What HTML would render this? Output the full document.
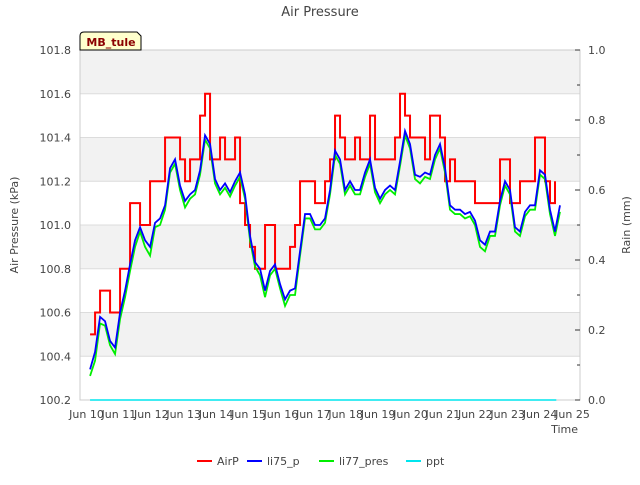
<!DOCTYPE html>
<html><head><meta charset="utf-8"><style>
body{margin:0;background:#fff}
svg text{font-family:"DejaVu Sans","Liberation Sans",sans-serif;fill:#444}
</style></head><body>
<svg width="640" height="480" xmlns="http://www.w3.org/2000/svg">
<text x="320" y="16" text-anchor="middle" font-size="13">Air Pressure</text>
<g id="bg"></g>
<g id="axes"></g>
<g id="series"></g>
<g>
<path d="M80,50 L80,36 Q80,32 84,32 L137,32 L141,36 L141,50 Z" fill="#ffffcc" stroke="#000" stroke-width="1"/>
<text x="111" y="46" text-anchor="middle" font-size="11" font-weight="bold" style="fill:#8b0000">MB_tule</text>
</g>
<text x="18" y="225" font-size="11" text-anchor="middle" transform="rotate(-90 18 225)">Air Pressure (kPa)</text>
<text x="630" y="225" font-size="11" text-anchor="middle" transform="rotate(-90 630 225)">Rain (mm)</text>
<text x="578" y="433" font-size="11" text-anchor="end">Time</text>
<g id="legend"></g>
</svg>
<script>
const ns="http://www.w3.org/2000/svg";
const t0=0.11, dt=0.1543;
const li75=[100.34,100.42,100.58,100.56,100.47,100.44,100.6,100.7,100.82,100.93,100.99,100.93,100.9,101.01,101.03,101.09,101.26,101.3,101.18,101.11,101.14,101.16,101.25,101.41,101.37,101.21,101.16,101.19,101.15,101.2,101.24,101.14,100.95,100.83,100.8,100.7,100.79,100.82,100.73,100.66,100.7,100.71,100.88,101.05,101.05,101.0,101.0,101.03,101.16,101.34,101.3,101.16,101.2,101.16,101.16,101.24,101.3,101.17,101.12,101.16,101.18,101.16,101.29,101.43,101.37,101.23,101.22,101.24,101.23,101.32,101.37,101.26,101.09,101.07,101.07,101.05,101.06,101.02,100.93,100.91,100.97,100.97,101.11,101.2,101.16,100.99,100.97,101.06,101.09,101.09,101.25,101.23,101.07,100.97,101.09];
const li77=[100.31,100.38,100.55,100.54,100.45,100.41,100.57,100.67,100.79,100.9,100.97,100.9,100.86,100.99,101.0,101.07,101.24,101.28,101.16,101.08,101.12,101.14,101.23,101.39,101.35,101.19,101.14,101.17,101.13,101.18,101.22,101.12,100.93,100.81,100.77,100.67,100.77,100.8,100.71,100.63,100.68,100.68,100.86,101.03,101.03,100.98,100.98,101.01,101.14,101.32,101.28,101.14,101.18,101.14,101.14,101.22,101.28,101.15,101.1,101.14,101.16,101.14,101.27,101.41,101.35,101.21,101.19,101.22,101.21,101.3,101.35,101.24,101.07,101.05,101.05,101.03,101.04,101.0,100.9,100.88,100.95,100.95,101.09,101.18,101.14,100.97,100.95,101.04,101.07,101.07,101.23,101.21,101.05,100.95,101.06];
const airp=[100.5,100.6,100.7,100.7,100.6,100.6,100.8,100.8,101.1,101.1,101.0,101.0,101.2,101.2,101.2,101.4,101.4,101.4,101.3,101.2,101.3,101.3,101.5,101.6,101.3,101.3,101.4,101.3,101.3,101.4,101.1,101.0,100.9,100.8,100.8,101.0,101.0,100.8,100.8,100.8,100.9,101.0,101.2,101.2,101.2,101.1,101.1,101.2,101.3,101.5,101.4,101.3,101.3,101.4,101.3,101.3,101.5,101.3,101.3,101.3,101.3,101.4,101.6,101.5,101.4,101.4,101.4,101.3,101.5,101.5,101.4,101.2,101.3,101.2,101.2,101.2,101.2,101.1,101.1,101.1,101.1,101.1,101.3,101.3,101.1,101.1,101.2,101.2,101.2,101.4,101.4,101.2,101.1,101.2];
const ppt=[0,0];
const pptT=[0.11,14.5];
const yTicks=[100.2,100.4,100.6,100.8,101.0,101.2,101.4,101.6,101.8];
const y2Ticks=[0.0,0.2,0.4,0.6,0.8,1.0];
const xTickLabels=["Jun 10","Jun 11","Jun 12","Jun 13","Jun 14","Jun 15","Jun 16","Jun 17","Jun 18","Jun 19","Jun 20","Jun 21","Jun 22","Jun 23","Jun 24","Jun 25"];
const L=80,R=580,T=50,B=400;
const X=t=>86.5+t*32.4;
const Y=v=>B-(v-100.2)/1.6*(B-T);
const Y2=v=>B-v*(B-T);
function mk(tag,attrs,parent){const e=document.createElementNS(ns,tag);for(const k in attrs)e.setAttribute(k,attrs[k]);parent.appendChild(e);return e;}
const bg=document.getElementById('bg'),ax=document.getElementById('axes'),sg=document.getElementById('series'),lg=document.getElementById('legend');
[[101.6,101.8],[101.2,101.4],[100.8,101.0],[100.4,100.6]].forEach(b=>{const r=mk('rect',{x:L,y:Y(b[1]),width:R-L,height:Y(b[0])-Y(b[1]),fill:'#f2f2f2'},bg);

});
yTicks.forEach(v=>{const l=mk('line',{x1:L,x2:R,y1:Y(v),y2:Y(v),stroke:'#dcdcdc','stroke-width':1},bg);


const tx=mk('text',{x:L-9,y:Y(v)+4,'font-size':11,'text-anchor':'end'},ax);tx.textContent=v.toFixed(1);

});
mk('rect',{x:L,y:T,width:R-L,height:B-T,fill:'none',stroke:'#ccc'},ax);
for(let i=0;i<=10;i++){const v=i/10;mk('line',{x1:R,x2:R-(i%2?3:5),y1:Y2(v),y2:Y2(v),stroke:'#333'},ax);}
y2Ticks.forEach(v=>{const tx=mk('text',{x:R+8,y:Y2(v)+4,'font-size':11},ax);tx.textContent=v.toFixed(1);

});
xTickLabels.forEach((s,i)=>{const tx=mk('text',{x:X(i),y:418,'font-size':11,'text-anchor':'middle'},ax);tx.textContent=s;

});
function line(arr,col,name,step){let d='';arr.forEach((v,i)=>{const x=X(t0+i*dt),y=Y(v);if(i==0)d='M'+x+','+y;else if(step){d+='H'+x+'V'+y;}else d+='L'+x+','+y;});
const p=mk('path',{d:d,fill:'none',stroke:col,'stroke-width':step?2:1.8},sg);

}
line(airp,'#ff0000','airp-line',true);
line(li77,'#00ee00','li77-pres-line',false);
line(li75,'#0000ff','li75-p-line',false);
const pp=mk('path',{d:'M'+X(pptT[0])+','+Y2(ppt[0])+'L'+X(pptT[1])+','+Y2(ppt[1]),stroke:'#00e5ee','stroke-width':1.5,fill:'none'},sg);


[['AirP','#ff0000',197],['li75_p','#0000ff',247],['li77_pres','#00ee00',319],['ppt','#00e5ee',406]].forEach(e=>{const g=mk('g',{},lg);


mk('line',{x1:e[2],x2:e[2]+15,y1:461,y2:461,stroke:e[1],'stroke-width':2},g);
const tx=mk('text',{x:e[2]+20,y:465,'font-size':11},g);tx.textContent=e[0];});
</script>
</body></html>
